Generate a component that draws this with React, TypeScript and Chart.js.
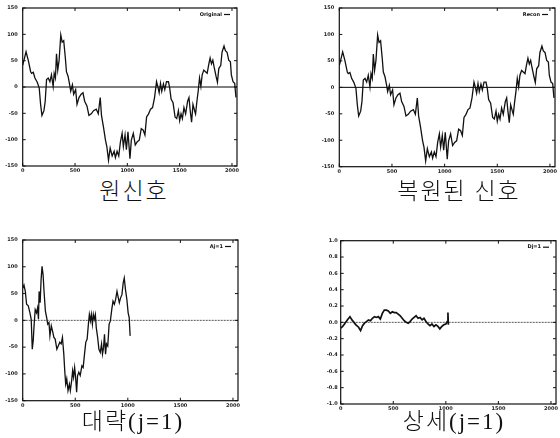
import React, { useEffect, useRef } from "react";
import { Chart, registerables } from "chart.js";

Chart.register(...registerables);

// ---------- data ----------
const xTickValues = [0, 500, 1000, 1500, 2000];
const bigYTicks = [-150, -100, -50, 0, 50, 100, 150];
const smallYTicks = [-1.0, -0.8, -0.6, -0.4, -0.2, 0.0, 0.2, 0.4, 0.6, 0.8, 1.0];

const origX = [0, 32, 54, 76, 85, 101, 117, 139, 158, 171, 184, 203, 215, 228, 244, 260, 275, 291, 301, 313, 323, 335, 348, 364, 377, 392, 408, 418, 434, 449, 459, 475, 487, 506, 519, 538, 557, 576, 592, 614, 633, 655, 677, 703, 722, 741, 753, 772, 791, 804, 820, 836, 855, 874, 886, 902, 918, 934, 950, 962, 978, 991, 1006, 1025, 1038, 1057, 1076, 1095, 1114, 1133, 1152, 1168, 1184, 1203, 1222, 1241, 1260, 1279, 1291, 1304, 1317, 1329, 1345, 1358, 1374, 1393, 1405, 1418, 1437, 1456, 1472, 1488, 1500, 1513, 1526, 1541, 1557, 1576, 1589, 1601, 1614, 1627, 1643, 1652, 1665, 1677, 1690, 1703, 1715, 1731, 1747, 1763, 1779, 1791, 1804, 1817, 1829, 1848, 1861, 1874, 1893, 1905, 1924, 1937, 1953, 1969, 1985, 1994, 2010, 2026, 2038];
const origY = [41, 67, 50, 29, 26, 28, 17, 9, -2, -33, -54, -45, -27, 14, 17, 10, 23, 1, 26, 17, 63, 32, 51, 99, 85, 88, 54, 29, 20, 4, -8, 4, -14, -5, -33, -20, -14, -11, -27, -36, -54, -51, -45, -42, -51, -20, -54, -76, -101, -113, -139, -116, -131, -122, -134, -122, -131, -104, -88, -113, -91, -119, -85, -136, -101, -88, -110, -104, -101, -79, -82, -91, -57, -51, -42, -39, -20, 10, 1, -11, 7, -8, 6, -5, 10, 10, -2, -23, -30, -57, -60, -45, -64, -51, -60, -39, -51, -27, -20, -45, -67, -33, -45, -51, -27, -8, 17, 1, 23, 32, 29, 26, 44, 55, 44, 51, 38, 20, 9, 35, 41, 66, 78, 69, 66, 51, 48, 23, 10, 7, -20];

// reconstruction is visually identical to the original
const reconX = origX;
const reconY = origY;

const approxX = [0, 12, 25, 37, 53, 69, 81, 91, 100, 109, 119, 131, 141, 150, 156, 166, 175, 184, 194, 203, 216, 228, 238, 250, 259, 272, 284, 297, 309, 325, 338, 353, 366, 378, 391, 400, 409, 419, 431, 444, 453, 466, 475, 484, 494, 503, 513, 522, 534, 547, 563, 575, 588, 600, 613, 625, 634, 644, 653, 663, 672, 681, 691, 700, 713, 725, 738, 750, 759, 769, 778, 788, 797, 809, 822, 834, 847, 859, 872, 884, 897, 906, 919, 931, 944, 956, 966, 978, 991, 1003, 1013, 1022];
const approxY = [60, 66, 54, 30, 27, 14, 2, -54, -38, -7, 20, 14, 23, 2, 54, 33, 76, 101, 85, 54, 17, 5, -7, -4, -29, -10, -20, -32, -35, -54, -48, -41, -44, -32, -63, -94, -119, -109, -131, -119, -131, -112, -94, -106, -88, -106, -134, -103, -97, -103, -85, -88, -63, -41, -35, -7, 11, -1, 11, -7, 11, 2, 11, -14, -32, -54, -60, -44, -63, -51, -26, -63, -44, -48, -7, -1, 20, 36, 30, 39, 54, 45, 33, 42, 48, 70, 79, 57, 39, 14, 5, -29];

const detailX = [0, 19, 41, 63, 88, 107, 126, 145, 170, 189, 208, 226, 245, 264, 283, 302, 321, 340, 358, 377, 396, 415, 434, 453, 472, 491, 509, 528, 547, 566, 585, 604, 623, 642, 660, 679, 698, 717, 736, 755, 774, 792, 811, 830, 849, 868, 887, 906, 925, 943, 962, 981, 1000, 1013, 1020, 1024];
const detailY = [-0.07, -0.05, -0.01, 0.03, 0.07, 0.03, 0.0, -0.03, -0.06, -0.10, -0.04, -0.01, 0.01, 0.03, 0.02, 0.05, 0.07, 0.06, 0.07, 0.04, 0.11, 0.15, 0.15, 0.14, 0.11, 0.13, 0.12, 0.12, 0.10, 0.08, 0.05, 0.02, 0.0, -0.01, 0.01, 0.04, 0.06, 0.08, 0.05, 0.06, 0.03, 0.05, 0.01, -0.02, -0.04, -0.02, -0.05, -0.03, -0.05, -0.08, -0.05, -0.03, -0.02, 0.01, 0.12, -0.03];

const legendLabels = ["Original", "Recon", "Aj=1", "Dj=1"];
const captions = ["원신호", "복원된 신호", "대략(j=1)", "상세(j=1)"];

// ---------- plugin: gnuplot-like frame, inward ticks, zero line, legend ----------
const framePlugin = {
  id: "gnuFrame",
  beforeDatasetsDraw(chart: any, _args: any, opts: any) {
    const { ctx, chartArea: a, scales } = chart;
    const y0 = scales.y.getPixelForValue(0);
    ctx.save();
    ctx.strokeStyle = opts.zeroColor || "#000";
    ctx.lineWidth = opts.zeroWidth || 1;
    ctx.setLineDash(opts.zeroDash || []);
    ctx.beginPath();
    ctx.moveTo(a.left, y0);
    ctx.lineTo(a.right, y0);
    ctx.stroke();
    ctx.restore();
  },
  afterDatasetsDraw(chart: any, _args: any, opts: any) {
    const { ctx, chartArea: a, scales } = chart;
    ctx.save();
    ctx.strokeStyle = "#111";
    ctx.lineWidth = 1.2;
    ctx.strokeRect(a.left, a.top, a.right - a.left, a.bottom - a.top);
    ctx.lineWidth = 1;
    const tl = 3;
    ctx.beginPath();
    scales.x.ticks.forEach((t: any) => {
      const px = scales.x.getPixelForValue(t.value);
      ctx.moveTo(px, a.bottom);
      ctx.lineTo(px, a.bottom - tl);
      ctx.moveTo(px, a.top);
      ctx.lineTo(px, a.top + tl);
    });
    scales.y.ticks.forEach((t: any) => {
      const py = scales.y.getPixelForValue(t.value);
      ctx.moveTo(a.left, py);
      ctx.lineTo(a.left + tl, py);
      ctx.moveTo(a.right, py);
      ctx.lineTo(a.right - tl, py);
    });
    ctx.stroke();
    // legend
    if (opts.legend) {
      const ly = a.top + 6.5;
      ctx.fillStyle = "#111";
      ctx.font = "bold 5px 'DejaVu Sans', sans-serif";
      ctx.textAlign = "right";
      ctx.textBaseline = "middle";
      ctx.fillText(opts.legend, a.right - 15, ly);
      ctx.lineWidth = 1.2;
      ctx.beginPath();
      ctx.moveTo(a.right - 13, ly);
      ctx.lineTo(a.right - 7, ly);
      ctx.stroke();
    }
    ctx.restore();
  },
};

type Spec = {
  xs: number[];
  ys: number[];
  yTicks: number[];
  decimals: number;
  legend: string;
  zeroColor: string;
  zeroDash: number[];
  lineWidth: number;
  yAxisWidth: number;
  yPad: number;
  xAxisHeight: number;
  padTop: number;
  padRight: number;
  width: number;
  height: number;
  left: number;
  top: number;
};

const tickFont = { size: 5, weight: "bold" as const, family: "'DejaVu Sans', sans-serif" };

function Plot({ spec }: { spec: Spec }) {
  const ref = useRef<HTMLCanvasElement | null>(null);
  useEffect(() => {
    if (!ref.current) return;
    const points = spec.xs.map((x, i) => ({ x, y: spec.ys[i] }));
    const yMin = spec.yTicks[0];
    const yMax = spec.yTicks[spec.yTicks.length - 1];
    const chart = new Chart(ref.current, {
      type: "line",
      data: {
        datasets: [
          {
            label: spec.legend,
            data: points,
            borderColor: "#111",
            borderWidth: spec.lineWidth,
            pointRadius: 0,
            tension: 0,
            fill: false,
          },
        ],
      },
      options: {
        animation: false,
        responsive: false,
        maintainAspectRatio: false,
        layout: { padding: { top: spec.padTop, right: spec.padRight, left: 0, bottom: 0 } },
        plugins: {
          legend: { display: false },
          tooltip: { enabled: false },
          gnuFrame: {
            legend: spec.legend,
            zeroColor: spec.zeroColor,
            zeroDash: spec.zeroDash,
          },
        } as any,
        scales: {
          x: {
            type: "linear",
            min: 0,
            max: 2048,
            grid: { display: false, drawTicks: false },
            border: { display: false },
            ticks: {
              font: tickFont,
              color: "#222",
              padding: 2,
              maxRotation: 0,
              autoSkip: false,
              callback: (v: any) => String(v),
            },
            afterBuildTicks: (s: any) => {
              s.ticks = xTickValues.map((v) => ({ value: v }));
            },
            afterFit: (s: any) => {
              s.height = spec.xAxisHeight;
            },
          },
          y: {
            type: "linear",
            min: yMin,
            max: yMax,
            grid: { display: false, drawTicks: false },
            border: { display: false },
            ticks: {
              font: tickFont,
              color: "#222",
              padding: spec.yPad,
              autoSkip: false,
              callback: (v: any) => Number(v).toFixed(spec.decimals),
            },
            afterBuildTicks: (s: any) => {
              s.ticks = spec.yTicks.map((v) => ({ value: v }));
            },
            afterFit: (s: any) => {
              s.width = spec.yAxisWidth;
            },
          },
        },
      } as any,
      plugins: [framePlugin as any],
    });
    return () => chart.destroy();
  }, [spec]);
  return (
    <canvas
      ref={ref}
      width={spec.width}
      height={spec.height}
      style={{ position: "absolute", left: spec.left, top: spec.top, width: spec.width, height: spec.height }}
    />
  );
}

const specs: Spec[] = [
  {
    xs: origX, ys: origY, yTicks: bigYTicks, decimals: 0, legend: legendLabels[0],
    zeroColor: "#000", zeroDash: [], lineWidth: 1.3,
    yAxisWidth: 22.7, yPad: 5, xAxisHeight: 12, padTop: 5, padRight: 8,
    width: 245, height: 178, left: 0, top: 0,
  },
  {
    xs: reconX, ys: reconY, yTicks: bigYTicks, decimals: 0, legend: legendLabels[1],
    zeroColor: "#000", zeroDash: [], lineWidth: 1.3,
    yAxisWidth: 24.3, yPad: 5, xAxisHeight: 12.3, padTop: 5.7, padRight: 5,
    width: 245, height: 179, left: 315, top: 0,
  },
  {
    xs: approxX, ys: approxY, yTicks: bigYTicks, decimals: 0, legend: legendLabels[2],
    zeroColor: "#555", zeroDash: [2, 1], lineWidth: 1.3,
    yAxisWidth: 22.7, yPad: 5, xAxisHeight: 11.3, padTop: 8, padRight: 7,
    width: 245, height: 180, left: 0, top: 232,
  },
  {
    xs: detailX, ys: detailY, yTicks: smallYTicks, decimals: 1, legend: legendLabels[3],
    zeroColor: "#555", zeroDash: [2, 1], lineWidth: 1.7,
    yAxisWidth: 25.7, yPad: 3, xAxisHeight: 12, padTop: 8.7, padRight: 3.3,
    width: 245, height: 184, left: 315, top: 232,
  },
];

const captionPos = [
  { cx: 134, cy: 192 },
  { cx: 459, cy: 192 },
  { cx: 133, cy: 422 },
  { cx: 454, cy: 422 },
];

export default function App() {
  return (
    <div style={{ position: "absolute", left: 0, top: 0, width: 560, height: 438, background: "#fff", overflow: "hidden" }}>
      {specs.map((s, i) => (
        <Plot key={i} spec={s} />
      ))}
      {captions.map((c, i) => (
        <div
          key={"c" + i}
          style={{
            position: "absolute",
            left: captionPos[i].cx - 100,
            top: captionPos[i].cy - 14,
            width: 200,
            height: 28,
            lineHeight: "28px",
            textAlign: "center",
            fontFamily: "'Liberation Serif', 'Noto Sans CJK KR', serif",
            fontWeight: 300,
            fontSize: 23,
            letterSpacing: 2,
            color: "#111",
            whiteSpace: "nowrap",
          }}
        >
          {c}
        </div>
      ))}
    </div>
  );
}
